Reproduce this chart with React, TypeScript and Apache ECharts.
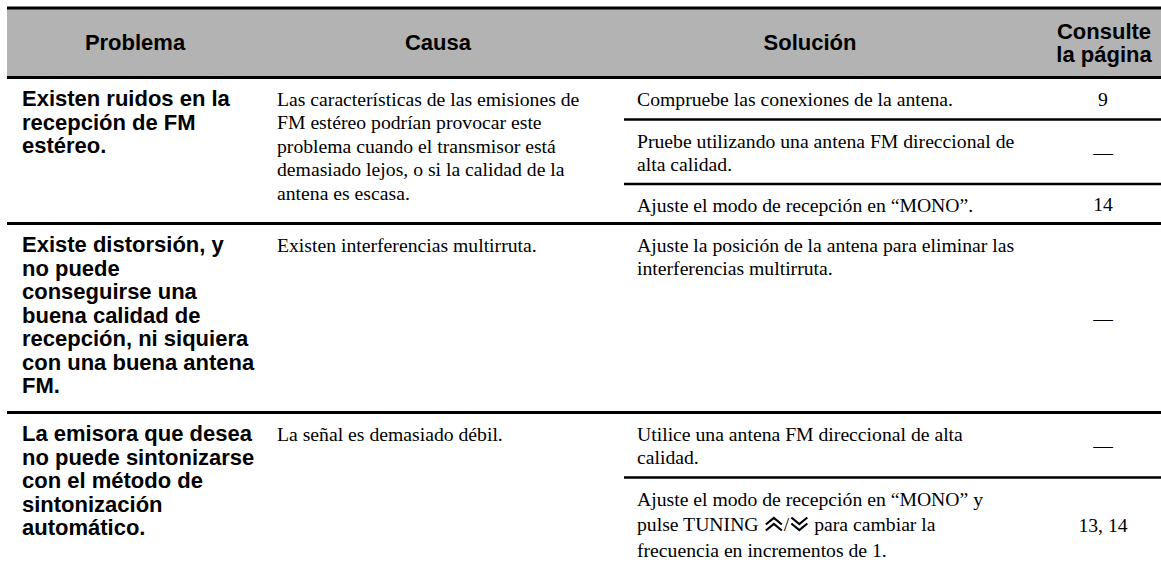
import React, { useEffect, useRef } from "react";
import * as echarts from "echarts";

// ---------- DATA ----------
const headerLabels: string[][] = [["Problema"], ["Causa"], ["Solución"], ["Consulte", "la página"]];

const problems: string[][] = [
  ["Existen ruidos en la", "recepción de FM", "estéreo."],
  [
    "Existe distorsión, y",
    "no puede",
    "conseguirse una",
    "buena calidad de",
    "recepción, ni siquiera",
    "con una buena antena",
    "FM.",
  ],
  ["La emisora que desea", "no puede sintonizarse", "con el método de", "sintonización", "automático."],
];

const causes: string[][] = [
  [
    "Las características de las emisiones de",
    "FM estéreo podrían provocar este",
    "problema cuando el transmisor está",
    "demasiado lejos, o si la calidad de la",
    "antena es escasa.",
  ],
  ["Existen interferencias multirruta."],
  ["La señal es demasiado débil."],
];

const solutions: string[][][] = [
  [
    ["Compruebe las conexiones de la antena."],
    ["Pruebe utilizando una antena FM direccional de", "alta calidad."],
    ["Ajuste el modo de recepción en “MONO”."],
  ],
  [["Ajuste la posición de la antena para eliminar las", "interferencias multirruta."]],
  [
    ["Utilice una antena FM direccional de alta", "calidad."],
    ["Ajuste el modo de recepción en “MONO” y", "pulse TUNING {up|}/{dn|} para cambiar la", "frecuencia en incrementos de 1."],
  ],
];

const pages: string[][] = [["9", "—", "14"], ["—"], ["—", "13, 14"]];

// ---------- LAYOUT ----------
const W = 1161;
const H = 573;
const SANS = "'Liberation Sans', Arial, Helvetica, sans-serif";
const SERIF = "'Liberation Serif', 'Times New Roman', serif";
const SANS_SIZE = 22;
const SERIF_SIZE = 19.7;
const LH = 23.5;
const LH_ICON = 25.5;
const FIRST = 21;

const TABLE_LEFT = 7;
const TOP_LINE = 8;
const HEAD_LINE = 77.5;
const ROW_LINES = [223.5, 412.5, H + 2];
const SUB_LINES: number[][] = [[119.5, 184], [], [477.5]];

const X_PROB = 22;
const X_CAUSA = 277;
const X_SOL_LINE = 624;
const X_SOL = 637;
const HEADER_CENTERS = [135, 438, 810, 1104];
const X_PAGE = 1103;

function chevronUrl(up: boolean): string {
  const d = up
    ? "M2 8.5 L10 2 L18 8.5 M2 14.5 L10 8 L18 14.5"
    : "M2 1.5 L10 8 L18 1.5 M2 7.5 L10 14 L18 7.5";
  const svg =
    "<svg xmlns='http://www.w3.org/2000/svg' width='20' height='16' viewBox='0 0 20 16'>" +
    "<path d='" + d + "' fill='none' stroke='black' stroke-width='2.2' stroke-linejoin='miter'/></svg>";
  return "data:image/svg+xml;charset=utf-8," + encodeURIComponent(svg);
}

function textEl(x: number, y: number, text: string, opt: { bold?: boolean; serif?: boolean; align?: string }) {
  const serif = !!opt.serif;
  const align = opt.align || "left";
  const style: any = {
    text,
    x: 0,
    y: 0,
    fill: "#000",
    fontFamily: serif ? SERIF : SANS,
    fontSize: serif ? SERIF_SIZE : SANS_SIZE,
    fontWeight: opt.bold ? "bold" : "normal",
    textAlign: align,
    align,
    textVerticalAlign: "middle",
    verticalAlign: "middle",
  };
  if (text.indexOf("{up|}") >= 0) {
    style.rich = {
      up: { width: 20, height: 16, backgroundColor: { image: chevronUrl(true) } },
      dn: { width: 20, height: 16, backgroundColor: { image: chevronUrl(false) } },
    };
  }
  return { type: "text", x, y, silent: true, style };
}

function lineEl(x1: number, y: number, x2: number, w: number) {
  return {
    type: "line",
    silent: true,
    shape: { x1, y1: y, x2, y2: y },
    style: { stroke: "#000", lineWidth: w },
  };
}

function buildElements() {
  const els: any[] = [];
  els.push({
    type: "rect",
    silent: true,
    shape: { x: TABLE_LEFT, y: TOP_LINE, width: W - TABLE_LEFT, height: HEAD_LINE - TOP_LINE },
    style: { fill: "#b3b3b3" },
  });
  els.push(lineEl(TABLE_LEFT, TOP_LINE, W, 3));
  els.push(lineEl(TABLE_LEFT, HEAD_LINE, W, 3));

  const headMid = (TOP_LINE + HEAD_LINE) / 2;
  headerLabels.forEach((lines, i) => {
    const start = headMid - ((lines.length - 1) * 23) / 2;
    lines.forEach((l, k) => {
      els.push(textEl(HEADER_CENTERS[i], start + k * 23, l, { bold: true, align: "center" }));
    });
  });

  problems.forEach((prob, r) => {
    const rowTop = r === 0 ? HEAD_LINE : ROW_LINES[r - 1];
    const rowBottom = ROW_LINES[r];
    if (r < ROW_LINES.length - 1) els.push(lineEl(TABLE_LEFT, rowBottom, W, 2.8));

    prob.forEach((l, k) => els.push(textEl(X_PROB, rowTop + FIRST + k * LH, l, { bold: true })));
    causes[r].forEach((l, k) => els.push(textEl(X_CAUSA, rowTop + FIRST + k * LH, l, { serif: true })));

    const subs = SUB_LINES[r];
    subs.forEach((y) => els.push(lineEl(X_SOL_LINE, y, W, 2.4)));
    const bounds = [rowTop, ...subs, rowBottom];

    solutions[r].forEach((cell, s) => {
      const top = bounds[s];
      const bottom = Math.min(bounds[s + 1], H);
      const hasIcon = cell.some((l) => l.indexOf("{up|}") >= 0);
      const lh = hasIcon ? LH_ICON : LH;
      cell.forEach((l, k) => els.push(textEl(X_SOL, top + FIRST + k * lh, l, { serif: true })));
      const p = pages[r][s];
      els.push(textEl(X_PAGE, (top + bottom) / 2, p, { serif: true, align: "center" }));
    });
  });
  return els;
}

export default function App() {
  const ref = useRef<HTMLDivElement | null>(null);
  useEffect(() => {
    document.body.style.margin = "0";
    if (!ref.current) return;
    const chart = echarts.init(ref.current, undefined, { renderer: "svg", width: W, height: H });
    chart.setOption({
      animation: false,
      backgroundColor: "#ffffff",
      graphic: { elements: buildElements() },
    });
    return () => chart.dispose();
  }, []);
  return (
    <div
      ref={ref}
      style={{ position: "fixed", left: 0, top: 0, width: W, height: H, background: "#fff" }}
    />
  );
}
